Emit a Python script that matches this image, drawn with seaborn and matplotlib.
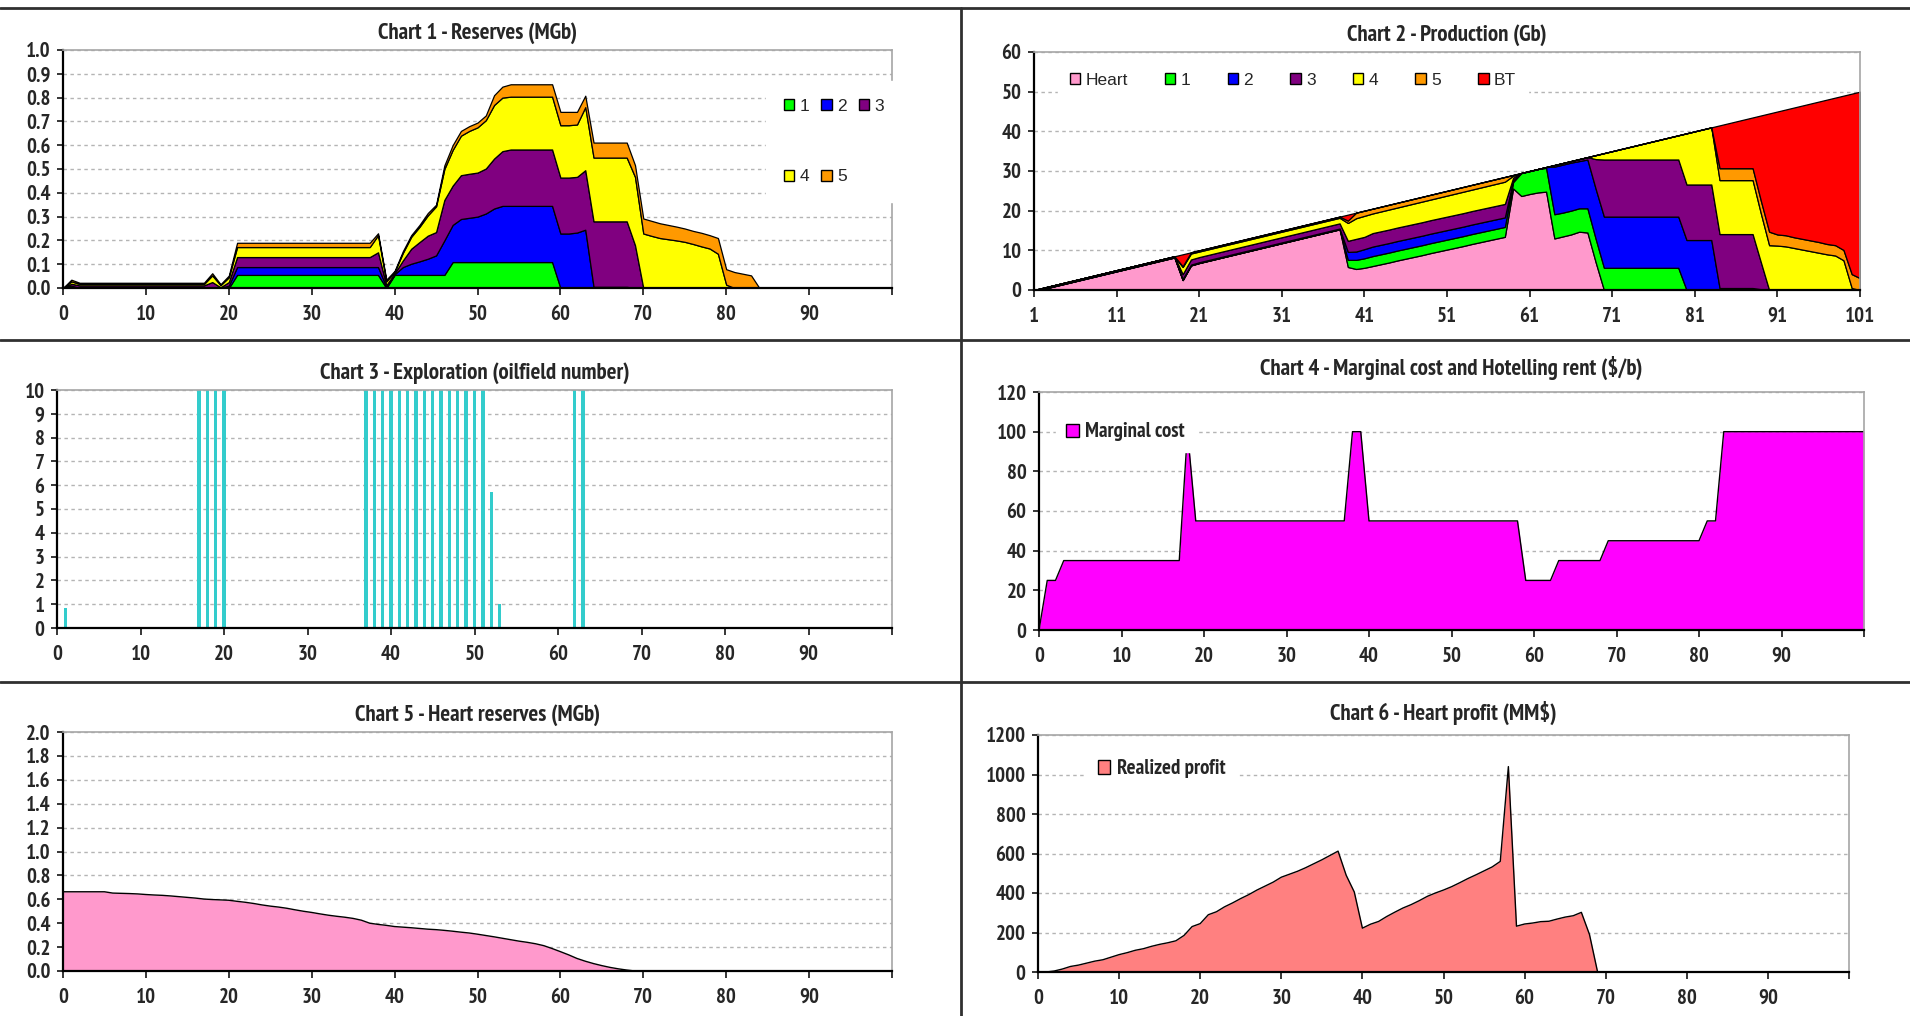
import numpy as np
import pandas as pd
import seaborn as sns
import matplotlib
matplotlib.use("Agg")
from matplotlib import pyplot as plt
from matplotlib.lines import Line2D
from matplotlib.patches import Patch

# ---------------- data ----------------
years = list(range(0, 101))        # charts 1, 3, 4, 5, 6
prod_years = list(range(1, 102))   # chart 2

# Chart 1 - reserves of each discovered field (MGb), stacked
res_f1 = [0.0] * 21 + [0.055] * 18 + [0.0] + [0.055] * 7 + [0.109] * 13 + [0.0] * 41
res_f2 = ([0.0, 0.01] + [0.0] * 18 + [0.01] + [0.033] * 18
          + [0.005, 0.003, 0.033, 0.047, 0.057, 0.068, 0.082, 0.145, 0.156, 0.181, 0.186, 0.191, 0.204, 0.225, 0.236]
          + [0.236] * 6 + [0.229, 0.229, 0.233, 0.245] + [0.005] * 5 + [0.0] * 32)
res_f3 = ([0.0, 0.008] + [0.011] * 16 + [0.025, 0.003, 0.015] + [0.042] * 17 + [0.062]
          + [0.007, 0.004, 0.028, 0.063, 0.081, 0.097, 0.098, 0.17, 0.165, 0.184, 0.185, 0.185, 0.189, 0.21, 0.23]
          + [0.237] * 6 + [0.235, 0.235, 0.234, 0.25] + [0.275] * 5 + [0.18] + [0.0] * 31)
res_f4 = ([0.0, 0.01] + [0.006] * 16 + [0.028, 0.009, 0.02] + [0.042] * 17 + [0.072]
          + [0.016, 0.006, 0.032, 0.05, 0.064, 0.085, 0.108, 0.13, 0.15, 0.166, 0.18, 0.19, 0.203, 0.225, 0.225]
          + [0.222] * 6 + [0.22, 0.22, 0.22, 0.265] + [0.268] * 5 + [0.287]
          + [0.229, 0.219, 0.21, 0.205, 0.2, 0.194, 0.185, 0.175, 0.166, 0.144, 0.014] + [0.0] * 20)
res_f5 = ([0.0, 0.007] + [0.005] * 16 + [0.009, 0.004, 0.007] + [0.018] * 17 + [0.008]
          + [0.007, 0.004, 0.007, 0.007, 0.008, 0.01, 0.007, 0.015, 0.02, 0.02, 0.02, 0.02, 0.02, 0.041, 0.046]
          + [0.052] * 6 + [0.056, 0.056, 0.053, 0.048] + [0.063] * 5 + [0.049]
          + [0.063, 0.063, 0.062, 0.06, 0.058, 0.056, 0.055, 0.057, 0.056, 0.066, 0.065, 0.067, 0.06, 0.053]
          + [0.0] * 17)

# Chart 2 - production by source (Gb), stacked
prod_heart = ([0.0, 0.2, 0.7, 1.2, 1.7, 2.2, 2.7, 3.2, 3.7, 4.2, 4.7, 5.2, 5.7, 6.2, 6.7, 7.2, 7.7, 8.2, 2.5, 6.2,
               6.8, 7.3, 7.8, 8.3, 8.8, 9.3, 9.8, 10.3, 10.8, 11.3, 11.8, 12.3, 12.8, 13.3, 13.8, 14.3, 14.8, 15.3, 5.8, 5.3,
               5.6, 6.05, 6.5, 6.95, 7.45, 7.9, 8.35, 8.8, 9.3, 9.75, 10.2, 10.65, 11.1, 11.6, 12.05, 12.5, 12.95, 13.4,
               25.6, 23.7, 24.2, 24.6, 24.8, 13.0, 13.5, 14.0, 14.7, 14.5, 7.0] + [0.0] * 32)
prod_f1 = ([0.0] * 38 + [1.8, 2.3, 2.4] + [2.5] * 17
           + [1.6, 5.8, 5.8, 5.9, 6.0, 6.1, 6.0, 6.0, 5.9, 6.1, 5.9] + [5.6] * 10 + [0.0] * 22)
prod_f2 = ([0.0] + [0.3] * 18 + [0.2] * 19 + [2.0, 2.1, 2.3] + [2.4] * 17
           + [0.5, 0.0, 0.0, 0.0, 0.2, 12.0, 12.1, 12.1, 11.9, 12.3, 12.6] + [12.9] * 10 + [12.6] * 4
           + [0.5] * 5 + [0.2] + [0.0] * 12)
prod_f3 = ([0.0] * 18 + [1.2] + [1.3] * 19 + [2.8, 3.2, 3.1] + [3.4] * 17
           + [0.6, 0.0, 0.0, 0.0, 0.0, 0.4, 0.4, 0.4, 0.5, 0.6, 7.5] + [14.4] * 10 + [14.0] * 4
           + [13.6] * 5 + [6.8] + [0.0] * 12)
prod_f4 = ([0.0] * 18 + [1.8, 1.5] + [1.4] * 18 + [4.5, 5.2, 5.3]
           + [4.95, 5.0, 5.05, 5.05, 5.1, 5.15, 5.2, 5.2, 5.25, 5.3, 5.35, 5.4, 5.4, 5.45, 5.5, 5.55, 5.6]
           + [0.5] + [0.0] * 9 + [1.0] + [1.6, 2.1, 2.6, 3.1, 3.6, 4.1, 4.6, 5.1, 5.6, 6.1]
           + [12.9, 13.4, 13.9, 14.4] + [13.6] * 5
           + [12.3, 11.3, 11.2, 11.0, 10.6, 10.2, 9.8, 9.4, 9.0, 8.7, 7.5, 0.5, 0.0])
prod_f5 = ([0.0] * 18 + [0.2] + [0.3] * 19 + [0.6, 1.4, 1.3] + [1.2] * 17 + [0.2] + [0.0] * 24
           + [3.0] * 5 + [3.2, 3.4, 2.8, 2.8, 2.7, 2.7, 2.7, 2.7, 2.6, 2.6, 2.6, 3.5, 3.0])
prod_bt = ([0.0] * 18 + [3.0] + [0.0] * 19 + [1.5] + [0.0] * 44
           + [10.8, 11.3, 11.8, 12.3, 12.8, 21.5, 29.8, 31.0, 31.7, 32.7, 33.6, 34.5, 35.4, 36.4, 37.2, 38.9,
              45.5, 47.0])

# Chart 3 - exploration (oilfield number), only years with exploration
explore_years = [1, 17, 18, 19, 20, 37, 38, 39, 40, 41, 42, 43, 44, 45, 46, 47, 48, 49, 50, 51, 52, 53, 62, 63]
explore_fields = [0.85, 10, 10, 10, 10, 10, 10, 10, 10, 10, 10, 10, 10, 10, 10, 10, 10, 10, 10, 10, 5.7, 1.0, 10, 10]

# Chart 4 - marginal cost ($/b)
marginal_cost = ([0, 25, 25] + [35] * 15 + [100] + [55] * 19 + [100, 100] + [55] * 19
                 + [25] * 4 + [35] * 6 + [45] * 12 + [55, 55] + [100] * 18)

# Chart 5 - heart reserves (MGb)
heart_reserves = ([0.663] * 6
                  + [0.652, 0.650, 0.648, 0.645, 0.640, 0.636, 0.633, 0.628, 0.622, 0.616, 0.610, 0.602, 0.598,
                     0.595, 0.592, 0.583, 0.575, 0.565, 0.553, 0.543, 0.535, 0.525, 0.512, 0.500, 0.490, 0.478,
                     0.467, 0.458, 0.450, 0.440, 0.425, 0.400, 0.390, 0.382, 0.372, 0.367, 0.362, 0.356, 0.350,
                     0.346, 0.340, 0.333, 0.325, 0.318, 0.308, 0.297, 0.286, 0.274, 0.262, 0.250, 0.240, 0.228,
                     0.212, 0.188, 0.162, 0.135, 0.105, 0.082, 0.062, 0.045, 0.030, 0.018, 0.008]
                  + [0.0] * 32)

# Chart 6 - heart realized profit (MM$)
heart_profit = ([0, 0, 5, 15, 28, 35, 45, 55, 62, 75,
                 88, 98, 110, 118, 130, 140, 148, 158, 185, 230,
                 245, 290, 305, 330, 350, 372, 392, 415, 435, 455,
                 480, 495, 510, 528, 548, 568, 590, 612, 490, 405,
                 222, 242, 256, 281, 303, 324, 341, 361, 383, 400,
                 415, 432, 452, 473, 492, 512, 532, 560, 1040, 232,
                 243, 248, 255, 257, 268, 278, 285, 302, 190, 0] + [0] * 31)

field_labels = ["1", "2", "3", "4", "5"]
prod_labels = ["Heart", "1", "2", "3", "4", "5", "BT"]
field_colors = ["#00FF00", "#0000FF", "#800080", "#FFFF00", "#FF9900"]
heart_color = "#FF99CC"
bt_color = "#FF0000"

# ---------------- figure ----------------
sns.set_style("white")
plt.rcParams["font.family"] = ["PT Sans Narrow", "Roboto Condensed", "Liberation Sans", "DejaVu Sans"]
plt.rcParams["font.weight"] = "bold"

W, H = 1910, 1016
fig = plt.figure(figsize=(W / 100, H / 100), dpi=100)


def px_axes(left, top, right, bottom):
    return fig.add_axes([left / W, 1 - bottom / H, (right - left) / W, (bottom - top) / H])


def style(ax, title, ymax, ystep, fmt, xticks, xlabels, xlim, pad=9):
    ax.set_xlim(*xlim)
    ax.set_ylim(0, ymax)
    yt = np.arange(0, ymax + ystep * 0.5, ystep)
    ax.set_yticks(yt)
    ax.set_yticklabels([fmt.format(v) for v in yt])
    ax.set_xticks(xticks)
    ax.set_xticklabels(xlabels)
    ax.yaxis.grid(True, color="#b4b4b4", linestyle=(0, (2.5, 2.5)), linewidth=1.0)
    ax.xaxis.grid(False)
    ax.set_axisbelow(True)
    for side in ("left", "bottom"):
        ax.spines[side].set_color("black")
        ax.spines[side].set_linewidth(1.6)
    for side in ("top", "right"):
        ax.spines[side].set_color("#a6a6a6")
        ax.spines[side].set_linewidth(1.2)
    ax.tick_params(axis="x", direction="out", length=5, width=1.3, pad=7, labelsize=15, bottom=True)
    ax.tick_params(axis="y", direction="out", length=4, width=1.3, pad=5, labelsize=15, left=True)
    for lab in ax.get_xticklabels() + ax.get_yticklabels():
        lab.set_fontweight("bold")
    ax.set_title(title, fontsize=16.5, fontweight="bold", pad=pad)
    ax.set_xlabel("")
    ax.set_ylabel("")


def box_legend(ax, handles, labels, anchor, prop, **kw):
    leg = ax.legend(handles, labels, loc="center left", bbox_to_anchor=anchor, frameon=True,
                    facecolor="white", edgecolor="white", framealpha=1, fancybox=False,
                    prop=prop, handlelength=0.6, handleheight=0.6, handletextpad=0.3, **kw)
    leg.set_zorder(5)
    return leg


plain = dict(family=["Liberation Sans", "DejaVu Sans"], weight="normal", size=12.5)
narrow_bold = dict(weight="bold", size=15)

decade_ticks = list(range(0, 101, 10))
decade_labels = [str(t) for t in range(0, 100, 10)] + [""]

# Chart 1
ax1 = px_axes(63, 50, 892, 288)
ax1.stackplot(years, res_f1, res_f2, res_f3, res_f4, res_f5, colors=field_colors,
              edgecolor="black", linewidth=0.9)
style(ax1, "Chart 1 - Reserves (MGb)", 1.0, 0.1, "{:.1f}", decade_ticks, decade_labels, (0, 100), pad=8)
h1 = [Patch(facecolor=c, edgecolor="black", linewidth=1) for c in field_colors]
order = [0, 3, 1, 4, 2]
box_legend(ax1, [h1[i] for i in order], [field_labels[i] for i in order], (0.838, 0.615), plain,
           ncol=3, columnspacing=0.7, labelspacing=3.2, borderpad=1.0)

# Chart 2
ax2 = px_axes(1034, 52, 1860, 290)
prod_colors = [heart_color] + field_colors + [bt_color]
ax2.stackplot(prod_years, prod_heart, prod_f1, prod_f2, prod_f3, prod_f4, prod_f5, prod_bt,
              colors=prod_colors, edgecolor="black", linewidth=0.9)
style(ax2, "Chart 2 - Production (Gb)", 60, 10, "{:.0f}", list(range(1, 102, 10)),
      [str(t) for t in range(1, 102, 10)], (1, 101), pad=8)
h2 = [Patch(facecolor=c, edgecolor="black", linewidth=1) for c in prod_colors]
box_legend(ax2, h2, prod_labels, (0.018, 0.882), plain, ncol=7, columnspacing=2.15, borderpad=0.7)

# Chart 3
ax3 = px_axes(57, 390, 892, 628)
explore = pd.DataFrame({"year": explore_years, "field": explore_fields})
sns.barplot(data=explore, x="year", y="field", native_scale=True, color="#33CCCC", saturation=1,
            width=0.4, linewidth=0, errorbar=None, ax=ax3)
style(ax3, "Chart 3 - Exploration (oilfield number)", 10, 1, "{:.0f}", decade_ticks, decade_labels, (0, 100),
      pad=8)

# Chart 4
ax4 = px_axes(1039, 392, 1864, 630)
mc = pd.DataFrame({"year": years, "cost": marginal_cost})
ax4.fill_between(mc["year"], mc["cost"], color="#FF00FF", linewidth=0)
sns.lineplot(data=mc, x="year", y="cost", color="black", linewidth=1.0, ax=ax4)
style(ax4, "Chart 4 - Marginal cost and Hotelling rent ($/b)", 120, 20, "{:.0f}", decade_ticks,
      decade_labels, (0, 100), pad=12)
box_legend(ax4, [Patch(facecolor="#FF00FF", edgecolor="black", linewidth=1)], ["Marginal cost"],
           (0.008, 0.832), narrow_bold, borderpad=0.5)

# Chart 5
ax5 = px_axes(63, 732, 892, 971)
hr = pd.DataFrame({"year": years, "reserves": heart_reserves})
ax5.fill_between(hr["year"], hr["reserves"], color=heart_color, linewidth=0)
sns.lineplot(data=hr, x="year", y="reserves", color="black", linewidth=1.0, ax=ax5)
style(ax5, "Chart 5 - Heart reserves (MGb)", 2.0, 0.2, "{:.1f}", decade_ticks, decade_labels, (0, 100),
      pad=8)

# Chart 6
ax6 = px_axes(1038, 735, 1849, 972)
hp = pd.DataFrame({"year": years, "profit": heart_profit})
ax6.fill_between(hp["year"], hp["profit"], color="#FF8080", linewidth=0)
sns.lineplot(data=hp, x="year", y="profit", color="black", linewidth=1.0, ax=ax6)
style(ax6, "Chart 6 - Heart profit (MM$)", 1200, 200, "{:.0f}", decade_ticks, decade_labels, (0, 100),
      pad=11)
box_legend(ax6, [Patch(facecolor="#FF8080", edgecolor="black", linewidth=1)], ["Realized profit"],
           (0.048, 0.857), narrow_bold, borderpad=0.5)

# chart object borders
for y in (8, 340, 682):
    fig.add_artist(Line2D([0, 1], [1 - y / H, 1 - y / H], transform=fig.transFigure,
                          color="#303030", linewidth=2))
fig.add_artist(Line2D([961 / W, 961 / W], [0, 1 - 8 / H], transform=fig.transFigure,
                      color="#303030", linewidth=2))

fig.savefig("out.png", dpi=100)
